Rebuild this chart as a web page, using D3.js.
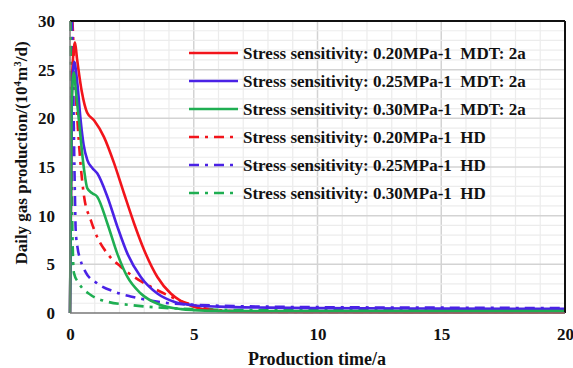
<!DOCTYPE html>
<html>
<head>
<meta charset="utf-8">
<script src="https://cdn.jsdelivr.net/npm/d3@7"></script>
<style>
  body { margin: 0; background: #fff; }
  text { font-family: "Liberation Serif", "Times New Roman", serif; font-weight: bold; fill: #111; }
</style>
</head>
<body>
<script>
var width = 573,
    height = 368;

// data (time in years, rate in 10^4 m3/d)
var redMDT_t = [0, 0.08, 0.2, 0.28, 0.48, 0.69, 0.97, 1.37, 1.78, 2.18, 2.59, 2.99, 3.53, 4.07, 4.5, 5, 5.6, 6.5, 8, 10, 15, 20];
var redMDT_v = [0, 24, 27.8, 26.2, 22.7, 20.6, 19.8, 18.1, 15.4, 12.3, 9.2, 6.5, 3.7, 2.0, 1.2, 0.65, 0.3, 0.15, 0.1, 0.08, 0.06, 0.05];

var blueMDT_t = [0, 0.07, 0.17, 0.3, 0.43, 0.55, 0.7, 0.9, 1.1, 1.51, 1.91, 2.32, 2.86, 3.53, 4.2, 5, 6, 8, 10, 15, 20];
var blueMDT_v = [0, 22, 25.8, 23.5, 19.8, 17.3, 15.7, 14.9, 14.35, 11.95, 8.9, 6.1, 3.7, 2.0, 1.16, 0.8, 0.65, 0.55, 0.5, 0.45, 0.42];

var greenMDT_t = [0, 0.06, 0.15, 0.25, 0.36, 0.57, 0.7, 0.9, 1.1, 1.51, 1.91, 2.32, 2.86, 3.66, 4.5, 5, 6, 8, 10, 15, 20];
var greenMDT_v = [0, 21, 24.7, 22.5, 19.8, 14.7, 12.8, 12.3, 11.95, 9.2, 6.1, 3.7, 2.0, 0.82, 0.4, 0.3, 0.22, 0.2, 0.2, 0.2, 0.2];

var redHD_t = [0.1, 0.15, 0.2, 0.3, 0.42, 0.57, 0.84, 1.1, 1.51, 2.05, 2.59, 3.26, 3.93, 4.5, 5, 5.5, 6, 7, 10, 15, 20];
var redHD_v = [30, 27, 24, 19.8, 15.5, 11.95, 9.55, 7.8, 6.1, 4.76, 3.7, 2.7, 1.85, 1.2, 0.8, 0.45, 0.3, 0.15, 0.1, 0.1, 0.1];

var blueHD_t = [0.08, 0.12, 0.16, 0.2, 0.23, 0.3, 0.43, 0.63, 1.1, 1.78, 2.45, 3.12, 4, 5, 6, 8, 10, 15, 20];
var blueHD_v = [30, 25, 18, 12, 8.5, 6.8, 5.4, 4.2, 3.05, 2.2, 1.7, 1.34, 1.0, 0.85, 0.75, 0.65, 0.6, 0.55, 0.5];

var greenHD_t = [0.02, 0.05, 0.07, 0.1, 0.16, 0.36, 0.84, 1.51, 2.45, 3.12, 4, 5, 7, 10, 15, 20];
var greenHD_v = [30, 22, 15, 8, 4.1, 3.05, 1.85, 1.16, 0.82, 0.65, 0.5, 0.4, 0.3, 0.3, 0.28, 0.25];

var legendLabels = [
    "Stress sensitivity: 0.20MPa-1  MDT: 2a",
    "Stress sensitivity: 0.25MPa-1  MDT: 2a",
    "Stress sensitivity: 0.30MPa-1  MDT: 2a",
    "Stress sensitivity: 0.20MPa-1  HD",
    "Stress sensitivity: 0.25MPa-1  HD",
    "Stress sensitivity: 0.30MPa-1  HD"
];
var xTicks = [0, 5, 10, 15, 20];
var yTicks = [0, 5, 10, 15, 20, 25, 30];

var red = "#f2141b", blue = "#4a22e6", green = "#1fae52";

var series = [
    { t: redMDT_t, v: redMDT_v, color: red, dash: null },
    { t: blueMDT_t, v: blueMDT_v, color: blue, dash: null },
    { t: greenMDT_t, v: greenMDT_v, color: green, dash: null },
    { t: redHD_t, v: redHD_v, color: red, dash: "10,6,3,6" },
    { t: blueHD_t, v: blueHD_v, color: blue, dash: "10,6,3,6" },
    { t: greenHD_t, v: greenHD_v, color: green, dash: "10,6,3,6" }
];

var x = d3.scaleLinear().domain([0, 20]).range([70, 565]);
var y = d3.scaleLinear().domain([0, 30]).range([313, 21]);

var svg = d3.select("body").append("svg")
    .attr("width", width)
    .attr("height", height);

svg.append("rect")
    .attr("width", width)
    .attr("height", height)
    .attr("fill", "#fff");

// gridlines: minor every 1, major every 5
var grid = svg.append("g");
grid.selectAll(".vx")
    .data(d3.range(1, 20))
    .enter().append("line")
    .attr("x1", function (d) { return x(d); })
    .attr("x2", function (d) { return x(d); })
    .attr("y1", y(0)).attr("y2", y(30))
    .attr("stroke", function (d) { return d % 5 === 0 ? "#d3d3d3" : "#ececec"; })
    .attr("stroke-width", function (d) { return d % 5 === 0 ? 1.5 : 1.2; });
grid.selectAll(".hy")
    .data(d3.range(1, 30))
    .enter().append("line")
    .attr("y1", function (d) { return y(d); })
    .attr("y2", function (d) { return y(d); })
    .attr("x1", x(0)).attr("x2", x(20))
    .attr("stroke", function (d) { return d % 5 === 0 ? "#d3d3d3" : "#ececec"; })
    .attr("stroke-width", function (d) { return d % 5 === 0 ? 1.5 : 1.2; });

var line = d3.line()
    .x(function (d) { return x(d[0]); })
    .y(function (d) { return y(d[1]); })
    .curve(d3.curveMonotoneX);

var plot = svg.append("g");
[3, 4, 5, 0, 1, 2].forEach(function (i) {
    var s = series[i];
    plot.append("path")
        .datum(d3.zip(s.t, s.v))
        .attr("d", line)
        .attr("fill", "none")
        .attr("stroke", s.color)
        .attr("stroke-width", 2.6)
        .attr("stroke-dasharray", s.dash);
});

// frame
svg.append("line").attr("x1", x(0)).attr("x2", x(20)).attr("y1", y(30)).attr("y2", y(30))
    .attr("stroke", "#111").attr("stroke-width", 2);
svg.append("line").attr("x1", x(20)).attr("x2", x(20)).attr("y1", y(30)).attr("y2", y(0))
    .attr("stroke", "#111").attr("stroke-width", 2);
svg.append("line").attr("x1", x(0)).attr("x2", x(0)).attr("y1", y(30)).attr("y2", y(0))
    .attr("stroke", "#777").attr("stroke-width", 1.5);
svg.append("line").attr("x1", x(0)).attr("x2", x(20)).attr("y1", y(0)).attr("y2", y(0))
    .attr("stroke", "#777").attr("stroke-width", 1.5);

// axes
var xAxis = svg.append("g")
    .attr("transform", "translate(0," + y(0) + ")")
    .call(d3.axisBottom(x).tickValues(xTicks).tickSize(0).tickPadding(15));
var yAxis = svg.append("g")
    .attr("transform", "translate(" + x(0) + ",0)")
    .call(d3.axisLeft(y).tickValues(yTicks).tickSize(0).tickPadding(15));
xAxis.select(".domain").remove();
yAxis.select(".domain").remove();
svg.selectAll(".tick text")
    .style("font-family", "'Liberation Serif', serif")
    .style("font-weight", "bold")
    .style("font-size", "17px")
    .attr("fill", "#111");

svg.append("text")
    .attr("x", 317).attr("y", 365)
    .attr("text-anchor", "middle")
    .style("font-size", "18px")
    .text("Production time/a");

var yt = svg.append("text")
    .attr("transform", "translate(27,153) rotate(-90)")
    .attr("text-anchor", "middle")
    .style("font-size", "17px");
yt.append("tspan").text("Daily gas production/(10");
yt.append("tspan").attr("dy", -6).style("font-size", "11px").text("4");
yt.append("tspan").attr("dy", 6).text("m");
yt.append("tspan").attr("dy", -6).style("font-size", "11px").text("3");
yt.append("tspan").attr("dy", 6).text("/d)");

// legend
var legend = svg.append("g");
var rows = legend.selectAll("g")
    .data(series)
    .enter().append("g")
    .attr("transform", function (d, i) { return "translate(189," + (53 + i * 28) + ")"; });
rows.append("line")
    .attr("x1", 0).attr("x2", 49)
    .attr("stroke", function (d) { return d.color; })
    .attr("stroke-width", 2.6)
    .attr("stroke-dasharray", function (d) { return d.dash; });
rows.append("text")
    .attr("x", 54).attr("y", 6)
    .style("font-size", "17px")
    .attr("xml:space", "preserve")
    .style("white-space", "pre")
    .text(function (d, i) { return legendLabels[i]; });
</script>
</body>
</html>
